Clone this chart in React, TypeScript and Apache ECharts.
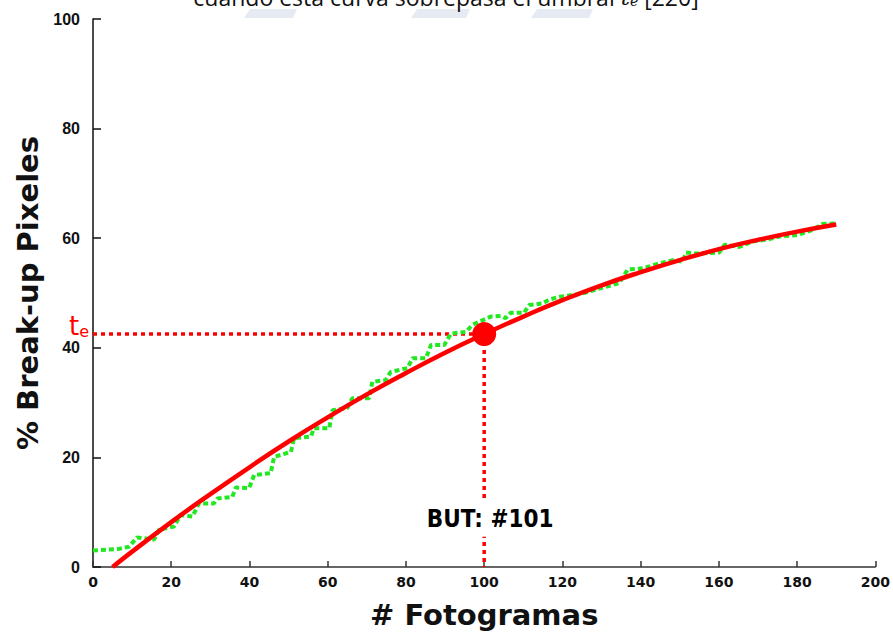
import React, { useEffect, useRef } from "react";
import * as echarts from "echarts";

// ---- data ----
const xTicks = [0, 20, 40, 60, 80, 100, 120, 140, 160, 180, 200];
const yTicks = [0, 20, 40, 60, 80, 100];

// measured curve (green, stepped, dotted)
const measuredFrames = [
  0, 6.6, 9.2, 11.3, 15.6, 16.9, 20.7, 22.4, 25.4, 27.1, 30.9, 31.8, 35.6, 36.5, 39.9,
  41.2, 45.4, 46.3, 50.6, 51.4, 55.7, 56.5, 60.4, 61.2, 65.0, 66.3, 70.6, 71.4, 74.8,
  76.1, 80.4, 81.7, 85.1, 86.4, 89.8, 91.5, 95.3, 97.0, 101.7, 104.3, 105.5, 106.8,
  110.2, 111.5, 114.9, 116.6, 119.2, 125.1, 129.4, 134.5, 136.7, 140.5, 144.8, 148.2,
  150.7, 151.6, 154.1, 160.1, 161.4, 165.2, 168.6, 172.0, 175.4, 180.1, 181.4, 183.9,
  186.5, 189.9,
];
const measuredPct = [
  3.0, 3.3, 3.7, 5.4, 5.0, 6.8, 7.4, 9.5, 9.2, 11.6, 11.6, 12.5, 12.8, 14.5, 14.4,
  16.8, 17.1, 20.1, 21.0, 23.5, 23.8, 25.3, 25.3, 28.6, 29.0, 30.8, 30.8, 33.8, 34.1,
  35.6, 36.3, 38.1, 38.1, 40.5, 40.5, 42.6, 42.9, 44.2, 45.7, 45.8, 45.4, 46.4,
  46.4, 47.8, 48.1, 48.8, 49.3, 49.9, 50.8, 51.8, 54.3, 54.5, 55.4, 56.0,
  55.7, 57.4, 57.2, 57.4, 58.8, 58.4, 59.4, 59.7, 60.3, 60.6, 60.9, 61.5,
  62.6, 62.7,
];

// fitted curve (red, smooth)
const fitFrames = [5, 10, 20, 30, 40, 50, 60, 70, 80, 90, 100, 110, 120, 130, 140, 150, 160, 170, 180, 190];
const fitPct = [0, 2.8, 8.2, 13.3, 18.2, 22.9, 27.3, 31.5, 35.4, 39.1, 42.5, 45.7, 48.7, 51.4, 53.8, 56.0, 58.0, 59.7, 61.2, 62.5];

const thresholdPct = 42.5; // t_e
const butFrame = 100;
const butLabelPct = 8.8;
const butText = "BUT: #101";
const titleText = "cuando esta curva sobrepasa el umbral ";
const xName = "# Fotogramas";
const yName = "% Break-up Pixeles";

const RED = "#ff0000";
const GREEN = "#22e822";

export default function App() {
  const ref = useRef<HTMLDivElement>(null);

  useEffect(() => {
    if (!ref.current) return;
    const chart = echarts.init(ref.current, null, { renderer: "svg" });
    const measured = measuredFrames.map((f, i) => [f, measuredPct[i]]);
    const fit = fitFrames.map((f, i) => [f, fitPct[i]]);

    chart.setOption({
      animation: false,
      backgroundColor: "#ffffff",
      grid: { left: 93, right: 17, top: 19, bottom: 68, containLabel: false },
      xAxis: {
        type: "value",
        min: xTicks[0],
        max: xTicks[xTicks.length - 1],
        interval: 20,
        name: xName,
        nameLocation: "middle",
        nameGap: 33,
        nameTextStyle: { fontFamily: "DejaVu Sans", fontWeight: "bold", fontSize: 29, color: "#111" },
        axisLine: { lineStyle: { color: "#333", width: 1.5 } },
        axisTick: { inside: true, length: 6, lineStyle: { color: "#333", width: 1.5 } },
        axisLabel: { fontFamily: "DejaVu Sans", fontWeight: "bold", fontSize: 14, color: "#111", margin: 8 },
        splitLine: { show: false },
      },
      yAxis: {
        type: "value",
        min: yTicks[0],
        max: yTicks[yTicks.length - 1],
        interval: 20,
        name: yName,
        nameLocation: "middle",
        nameGap: 46,
        nameTextStyle: { fontFamily: "DejaVu Sans", fontWeight: "bold", fontSize: 29, color: "#111" },
        axisLine: { show: true, lineStyle: { color: "#111", width: 1.5 } },
        axisTick: { show: true, inside: true, length: 8, lineStyle: { color: "#111", width: 1.5 } },
        axisLabel: { fontFamily: "Liberation Sans", fontWeight: "bold", fontSize: 16, color: "#111", margin: 13 },
        splitLine: { show: false },
      },
      graphic: [
        { type: "polygon", shape: { points: [[250, 9], [297, 9], [293, 18], [244, 18]] }, style: { fill: "#e6eaf2" }, z: -1 },
        { type: "polygon", shape: { points: [[417, 9], [470, 9], [466, 18], [411, 18]] }, style: { fill: "#e6eaf2" }, z: -1 },
        { type: "polygon", shape: { points: [[537, 9], [593, 9], [589, 18], [531, 18]] }, style: { fill: "#e6eaf2" }, z: -1 },
        {
          type: "text",
          x: 446,
          y: 8,
          style: {
            text: titleText + "{i|t}{s|e} [220]",
            fontFamily: "Open Sans",
            fontSize: 23,
            fill: "#111",
            align: "center",
            verticalAlign: "bottom",
            rich: {
              i: { fontFamily: "DejaVu Serif", fontStyle: "italic", fontSize: 23, fill: "#111" },
              s: { fontFamily: "DejaVu Serif", fontStyle: "italic", fontSize: 14, fill: "#111", verticalAlign: "bottom" },
            },
          },
        },
      ],
      series: [
        {
          type: "line",
          data: [[xTicks[0], thresholdPct], [butFrame, thresholdPct]],
          showSymbol: false,
          symbol: "none",
          silent: true,
          lineStyle: { color: RED, width: 3.5, type: [4, 4] },
          z: 1,
        },
        {
          type: "line",
          data: [[butFrame, thresholdPct], [butFrame, yTicks[0]]],
          showSymbol: false,
          symbol: "none",
          silent: true,
          lineStyle: { color: RED, width: 3.5, type: [4, 4] },
          z: 1,
        },
        {
          type: "line",
          data: measured,
          showSymbol: false,
          symbol: "none",
          silent: true,
          lineStyle: { color: GREEN, width: 4, type: [5, 3] },
          z: 2,
        },
        {
          type: "line",
          data: fit,
          smooth: true,
          showSymbol: false,
          symbol: "none",
          silent: true,
          lineStyle: { color: RED, width: 4.5 },
          z: 3,
        },
        {
          type: "scatter",
          data: [[butFrame, thresholdPct]],
          symbol: "circle",
          symbolSize: 24,
          silent: true,
          itemStyle: { color: RED, opacity: 1 },
          z: 10,
        },
        {
          type: "scatter",
          data: [[xTicks[0], thresholdPct]],
          symbolSize: 0,
          silent: true,
          itemStyle: { opacity: 1 },
          label: {
            show: true,
            position: "left",
            distance: 4,
            offset: [0, -8],
            formatter: "{t|t}{e|e}",
            rich: {
              t: { fontFamily: "DejaVu Sans", fontSize: 26, color: RED, verticalAlign: "bottom" },
              e: { fontFamily: "DejaVu Sans", fontSize: 16, color: RED, verticalAlign: "bottom" },
            },
          },
          z: 10,
        },
        {
          type: "scatter",
          data: [[butFrame, butLabelPct]],
          symbolSize: 0,
          silent: true,
          itemStyle: { opacity: 1 },
          label: {
            show: true,
            position: "inside",
            formatter: butText,
            fontFamily: "'DejaVu Sans Condensed', 'DejaVu Sans'",
            fontWeight: "bold",
            fontSize: 24,
            color: "#000",
            backgroundColor: "#ffffff",
            padding: [6, 2, 6, 2],
            offset: [6, 0],
          },
          z: 20,
        },
      ],
    });
    return () => chart.dispose();
  }, []);

  return <div ref={ref} style={{ position: "absolute", left: 0, top: 0, width: 893, height: 635 }} />;
}
